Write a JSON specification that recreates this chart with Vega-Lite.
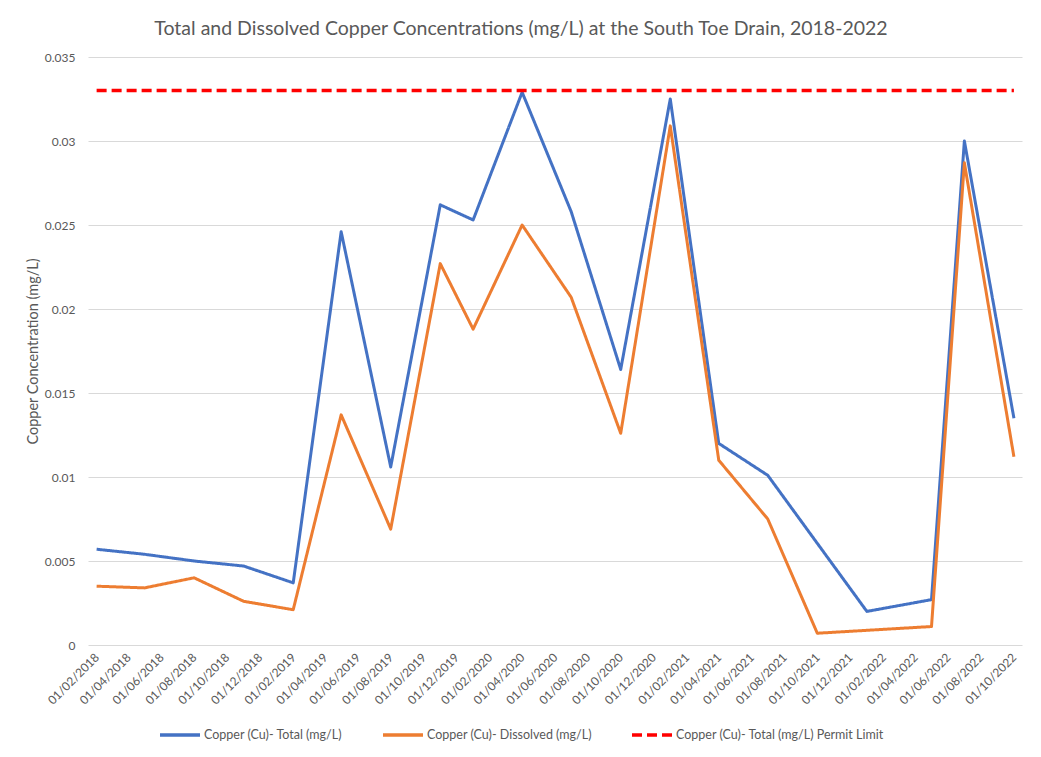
{
  "$schema": "https://vega.github.io/schema/vega-lite/v6.json",
  "width": 934,
  "height": 588,
  "autosize": {"type": "none"},
  "padding": {"left": 88, "top": 57, "right": 19, "bottom": 112},
  "background": "white",
  "config": {
    "font": "Lato",
    "view": {"stroke": null},
    "axis": {"labelColor": "#595959", "titleColor": "#595959", "labelFont": "Lato", "titleFont": "Lato"}
  },
  "title": {
    "text": "Total and Dissolved Copper Concentrations (mg/L) at the South Toe Drain, 2018-2022",
    "fontSize": 19.5,
    "font": "Lato",
    "fontWeight": "normal",
    "color": "#595959",
    "anchor": "middle",
    "frame": "group",
    "dx": -34,
    "offset": 12
  },
  "data": {
    "values": [
      {"date": "2018-02-01", "series": "Copper (Cu)- Total (mg/L)", "value": 0.0057},
      {"date": "2018-05-01", "series": "Copper (Cu)- Total (mg/L)", "value": 0.0054},
      {"date": "2018-08-01", "series": "Copper (Cu)- Total (mg/L)", "value": 0.0050},
      {"date": "2018-11-01", "series": "Copper (Cu)- Total (mg/L)", "value": 0.0047},
      {"date": "2019-02-01", "series": "Copper (Cu)- Total (mg/L)", "value": 0.0037},
      {"date": "2019-05-01", "series": "Copper (Cu)- Total (mg/L)", "value": 0.0246},
      {"date": "2019-08-01", "series": "Copper (Cu)- Total (mg/L)", "value": 0.0106},
      {"date": "2019-11-01", "series": "Copper (Cu)- Total (mg/L)", "value": 0.0262},
      {"date": "2020-01-01", "series": "Copper (Cu)- Total (mg/L)", "value": 0.0253},
      {"date": "2020-04-01", "series": "Copper (Cu)- Total (mg/L)", "value": 0.0329},
      {"date": "2020-07-01", "series": "Copper (Cu)- Total (mg/L)", "value": 0.0258},
      {"date": "2020-10-01", "series": "Copper (Cu)- Total (mg/L)", "value": 0.0164},
      {"date": "2021-01-01", "series": "Copper (Cu)- Total (mg/L)", "value": 0.0325},
      {"date": "2021-04-01", "series": "Copper (Cu)- Total (mg/L)", "value": 0.0120},
      {"date": "2021-07-01", "series": "Copper (Cu)- Total (mg/L)", "value": 0.0101},
      {"date": "2022-01-01", "series": "Copper (Cu)- Total (mg/L)", "value": 0.0020},
      {"date": "2022-05-01", "series": "Copper (Cu)- Total (mg/L)", "value": 0.0027},
      {"date": "2022-07-01", "series": "Copper (Cu)- Total (mg/L)", "value": 0.0300},
      {"date": "2022-10-01", "series": "Copper (Cu)- Total (mg/L)", "value": 0.0135},

      {"date": "2018-02-01", "series": "Copper (Cu)- Dissolved (mg/L)", "value": 0.0035},
      {"date": "2018-05-01", "series": "Copper (Cu)- Dissolved (mg/L)", "value": 0.0034},
      {"date": "2018-08-01", "series": "Copper (Cu)- Dissolved (mg/L)", "value": 0.0040},
      {"date": "2018-11-01", "series": "Copper (Cu)- Dissolved (mg/L)", "value": 0.0026},
      {"date": "2019-02-01", "series": "Copper (Cu)- Dissolved (mg/L)", "value": 0.0021},
      {"date": "2019-05-01", "series": "Copper (Cu)- Dissolved (mg/L)", "value": 0.0137},
      {"date": "2019-08-01", "series": "Copper (Cu)- Dissolved (mg/L)", "value": 0.0069},
      {"date": "2019-11-01", "series": "Copper (Cu)- Dissolved (mg/L)", "value": 0.0227},
      {"date": "2020-01-01", "series": "Copper (Cu)- Dissolved (mg/L)", "value": 0.0188},
      {"date": "2020-04-01", "series": "Copper (Cu)- Dissolved (mg/L)", "value": 0.0250},
      {"date": "2020-07-01", "series": "Copper (Cu)- Dissolved (mg/L)", "value": 0.0207},
      {"date": "2020-10-01", "series": "Copper (Cu)- Dissolved (mg/L)", "value": 0.0126},
      {"date": "2021-01-01", "series": "Copper (Cu)- Dissolved (mg/L)", "value": 0.0309},
      {"date": "2021-04-01", "series": "Copper (Cu)- Dissolved (mg/L)", "value": 0.0110},
      {"date": "2021-07-01", "series": "Copper (Cu)- Dissolved (mg/L)", "value": 0.0075},
      {"date": "2021-10-01", "series": "Copper (Cu)- Dissolved (mg/L)", "value": 0.0007},
      {"date": "2022-05-01", "series": "Copper (Cu)- Dissolved (mg/L)", "value": 0.0011},
      {"date": "2022-07-01", "series": "Copper (Cu)- Dissolved (mg/L)", "value": 0.0287},
      {"date": "2022-10-01", "series": "Copper (Cu)- Dissolved (mg/L)", "value": 0.0112},

      {"date": "2018-02-01", "series": "Copper (Cu)- Total (mg/L) Permit Limit", "value": 0.033},
      {"date": "2018-05-01", "series": "Copper (Cu)- Total (mg/L) Permit Limit", "value": 0.033},
      {"date": "2018-08-01", "series": "Copper (Cu)- Total (mg/L) Permit Limit", "value": 0.033},
      {"date": "2018-11-01", "series": "Copper (Cu)- Total (mg/L) Permit Limit", "value": 0.033},
      {"date": "2019-02-01", "series": "Copper (Cu)- Total (mg/L) Permit Limit", "value": 0.033},
      {"date": "2019-05-01", "series": "Copper (Cu)- Total (mg/L) Permit Limit", "value": 0.033},
      {"date": "2019-08-01", "series": "Copper (Cu)- Total (mg/L) Permit Limit", "value": 0.033},
      {"date": "2019-11-01", "series": "Copper (Cu)- Total (mg/L) Permit Limit", "value": 0.033},
      {"date": "2020-01-01", "series": "Copper (Cu)- Total (mg/L) Permit Limit", "value": 0.033},
      {"date": "2020-04-01", "series": "Copper (Cu)- Total (mg/L) Permit Limit", "value": 0.033},
      {"date": "2020-07-01", "series": "Copper (Cu)- Total (mg/L) Permit Limit", "value": 0.033},
      {"date": "2020-10-01", "series": "Copper (Cu)- Total (mg/L) Permit Limit", "value": 0.033},
      {"date": "2021-01-01", "series": "Copper (Cu)- Total (mg/L) Permit Limit", "value": 0.033},
      {"date": "2021-04-01", "series": "Copper (Cu)- Total (mg/L) Permit Limit", "value": 0.033},
      {"date": "2021-07-01", "series": "Copper (Cu)- Total (mg/L) Permit Limit", "value": 0.033},
      {"date": "2022-01-01", "series": "Copper (Cu)- Total (mg/L) Permit Limit", "value": 0.033},
      {"date": "2022-05-01", "series": "Copper (Cu)- Total (mg/L) Permit Limit", "value": 0.033},
      {"date": "2022-07-01", "series": "Copper (Cu)- Total (mg/L) Permit Limit", "value": 0.033},
      {"date": "2022-10-01", "series": "Copper (Cu)- Total (mg/L) Permit Limit", "value": 0.033}
    ]
  },
  "encoding": {
    "x": {
      "field": "date",
      "type": "temporal",
      "scale": {
        "type": "utc",
        "domain": [
          {"year": 2018, "month": 1, "date": 16, "utc": true},
          {"year": 2022, "month": 10, "date": 16, "utc": true}
        ]
      },
      "axis": {
        "title": null,
        "labelExpr": "utcFormat(datum.value, '%d/%m/%Y')",
        "values": [
          {"year": 2018, "month": 2, "date": 1, "utc": true},
          {"year": 2018, "month": 4, "date": 1, "utc": true},
          {"year": 2018, "month": 6, "date": 1, "utc": true},
          {"year": 2018, "month": 8, "date": 1, "utc": true},
          {"year": 2018, "month": 10, "date": 1, "utc": true},
          {"year": 2018, "month": 12, "date": 1, "utc": true},
          {"year": 2019, "month": 2, "date": 1, "utc": true},
          {"year": 2019, "month": 4, "date": 1, "utc": true},
          {"year": 2019, "month": 6, "date": 1, "utc": true},
          {"year": 2019, "month": 8, "date": 1, "utc": true},
          {"year": 2019, "month": 10, "date": 1, "utc": true},
          {"year": 2019, "month": 12, "date": 1, "utc": true},
          {"year": 2020, "month": 2, "date": 1, "utc": true},
          {"year": 2020, "month": 4, "date": 1, "utc": true},
          {"year": 2020, "month": 6, "date": 1, "utc": true},
          {"year": 2020, "month": 8, "date": 1, "utc": true},
          {"year": 2020, "month": 10, "date": 1, "utc": true},
          {"year": 2020, "month": 12, "date": 1, "utc": true},
          {"year": 2021, "month": 2, "date": 1, "utc": true},
          {"year": 2021, "month": 4, "date": 1, "utc": true},
          {"year": 2021, "month": 6, "date": 1, "utc": true},
          {"year": 2021, "month": 8, "date": 1, "utc": true},
          {"year": 2021, "month": 10, "date": 1, "utc": true},
          {"year": 2021, "month": 12, "date": 1, "utc": true},
          {"year": 2022, "month": 2, "date": 1, "utc": true},
          {"year": 2022, "month": 4, "date": 1, "utc": true},
          {"year": 2022, "month": 6, "date": 1, "utc": true},
          {"year": 2022, "month": 8, "date": 1, "utc": true},
          {"year": 2022, "month": 10, "date": 1, "utc": true}
        ],
        "labelAngle": -45,
        "labelAlign": "right",
        "labelBaseline": "middle",
        "labelFontSize": 12,
        "labelPadding": 10,
        "labelOverlap": false,
        "labelFlush": false,
        "ticks": false,
        "grid": false,
        "domain": false
      }
    },
    "y": {
      "field": "value",
      "type": "quantitative",
      "scale": {"domain": [0, 0.035], "nice": false},
      "axis": {
        "title": "Copper Concentration (mg/L)",
        "titleFontSize": 14.5,
        "titleFontWeight": "normal",
        "titlePadding": 4,
        "values": [0, 0.005, 0.01, 0.015, 0.02, 0.025, 0.03, 0.035],
        "format": "~g",
        "labelFontSize": 12,
        "labelPadding": 13,
        "ticks": false,
        "domain": false,
        "grid": true,
        "gridColor": "#d9d9d9",
        "gridWidth": 1
      }
    },
    "color": {
      "field": "series",
      "type": "nominal",
      "scale": {
        "domain": ["Copper (Cu)- Total (mg/L)", "Copper (Cu)- Dissolved (mg/L)", "Copper (Cu)- Total (mg/L) Permit Limit"],
        "range": ["#4472C4", "#ED7D31", "#FF0000"]
      },
      "legend": {
        "title": null,
        "orient": "none",
        "direction": "horizontal",
        "legendX": 70,
        "legendY": 656,
        "symbolType": "stroke",
        "symbolSize": 1600,
        "symbolStrokeWidth": 3.5,
        "labelFontSize": 12.5,
        "labelColor": "#595959",
        "labelFont": "Lato",
        "labelOffset": 2,
        "columnPadding": 33,
        "labelLimit": 400
      }
    },
    "strokeDash": {
      "field": "series",
      "type": "nominal",
      "scale": {
        "domain": ["Copper (Cu)- Total (mg/L)", "Copper (Cu)- Dissolved (mg/L)", "Copper (Cu)- Total (mg/L) Permit Limit"],
        "range": [[1, 0], [1, 0], [10, 5]]
      },
      "legend": {
        "title": null,
        "orient": "none",
        "direction": "horizontal",
        "legendX": 70,
        "legendY": 656,
        "symbolType": "stroke",
        "symbolSize": 1600,
        "symbolStrokeWidth": 3.5,
        "labelFontSize": 12.5,
        "labelColor": "#595959",
        "labelFont": "Lato",
        "labelOffset": 2,
        "columnPadding": 33,
        "labelLimit": 400
      }
    }
  },
  "layer": [
    {
      "transform": [{"filter": "datum.series === 'Copper (Cu)- Total (mg/L)'"}],
      "mark": {"type": "line", "strokeWidth": 3, "strokeJoin": "round"}
    },
    {
      "transform": [{"filter": "datum.series === 'Copper (Cu)- Dissolved (mg/L)'"}],
      "mark": {"type": "line", "strokeWidth": 3, "strokeJoin": "round"}
    },
    {
      "transform": [{"filter": "datum.series === 'Copper (Cu)- Total (mg/L) Permit Limit'"}],
      "mark": {"type": "line", "strokeWidth": 3.5, "strokeCap": "butt"}
    }
  ]
}
